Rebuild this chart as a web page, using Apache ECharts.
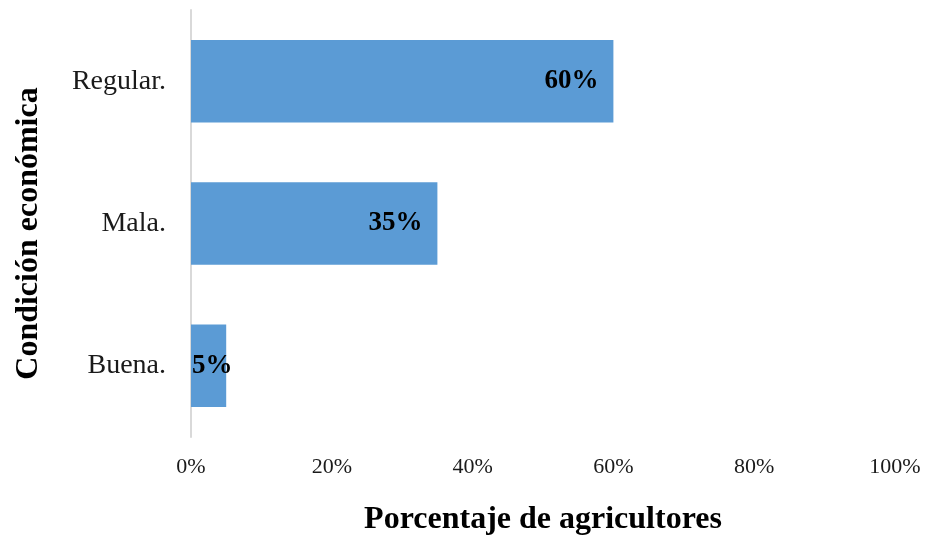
<!DOCTYPE html>
<html><head><meta charset="utf-8">
<script src="https://cdn.jsdelivr.net/npm/echarts@6/dist/echarts.min.js"></script>
<style>html,body{margin:0;padding:0;background:#fff}#c{width:926px;height:535px}</style>
</head><body><div id="c"></div>
<script>
const categories = ['Buena.', 'Mala.', 'Regular.'];
const values = [5, 35, 60];
const xTicks = [0, 20, 40, 60, 80, 100];

const chart = echarts.init(document.getElementById('c'));
chart.setOption({
  animation: false,
  textStyle: { fontFamily: 'Liberation Serif' },
  grid: { left: 191, right: 31, top: 10, bottom: 98, containLabel: false, outerBoundsMode: 'none' },
  xAxis: {
    type: 'value', min: 0, max: 100, interval: 20,
    axisLine: { show: false }, axisTick: { show: false },
    splitLine: { show: false },
    axisLabel: { formatter: v => v + '%', color: '#1a1a1a', fontSize: 22, fontFamily: 'Liberation Serif', margin: 19 },
    name: 'Porcentaje de agricultores', nameLocation: 'middle', nameGap: 67,
    nameTextStyle: { fontSize: 32, fontWeight: 'bold', color: '#000', fontFamily: 'Liberation Serif' }
  },
  yAxis: {
    type: 'category', data: categories,
    axisLine: { show: true, lineStyle: { color: '#d9d9d9', width: 2 } },
    axisTick: { show: false },
    axisLabel: { color: '#1a1a1a', fontSize: 28, fontFamily: 'Liberation Serif', margin: 25 },
    name: 'Condición económica', nameLocation: 'middle', nameGap: 146, nameRotate: 90,
    nameTextStyle: { fontSize: 32, fontWeight: 'bold', color: '#000', fontFamily: 'Liberation Serif', padding: [0, 20, 0, 0] }
  },
  series: [{
    type: 'bar',
    data: values.map(v => v < 10
      ? { value: v, label: { position: 'insideLeft', distance: 1 } }
      : v),
    barCategoryGap: '42%',
    itemStyle: { color: '#5B9BD5' },
    label: { show: true, position: 'insideRight', distance: 15, formatter: p => p.value + '%',
      color: '#000', fontSize: 27, fontWeight: 'bold', fontFamily: 'Liberation Serif' }
  }]
});
</script></body></html>
